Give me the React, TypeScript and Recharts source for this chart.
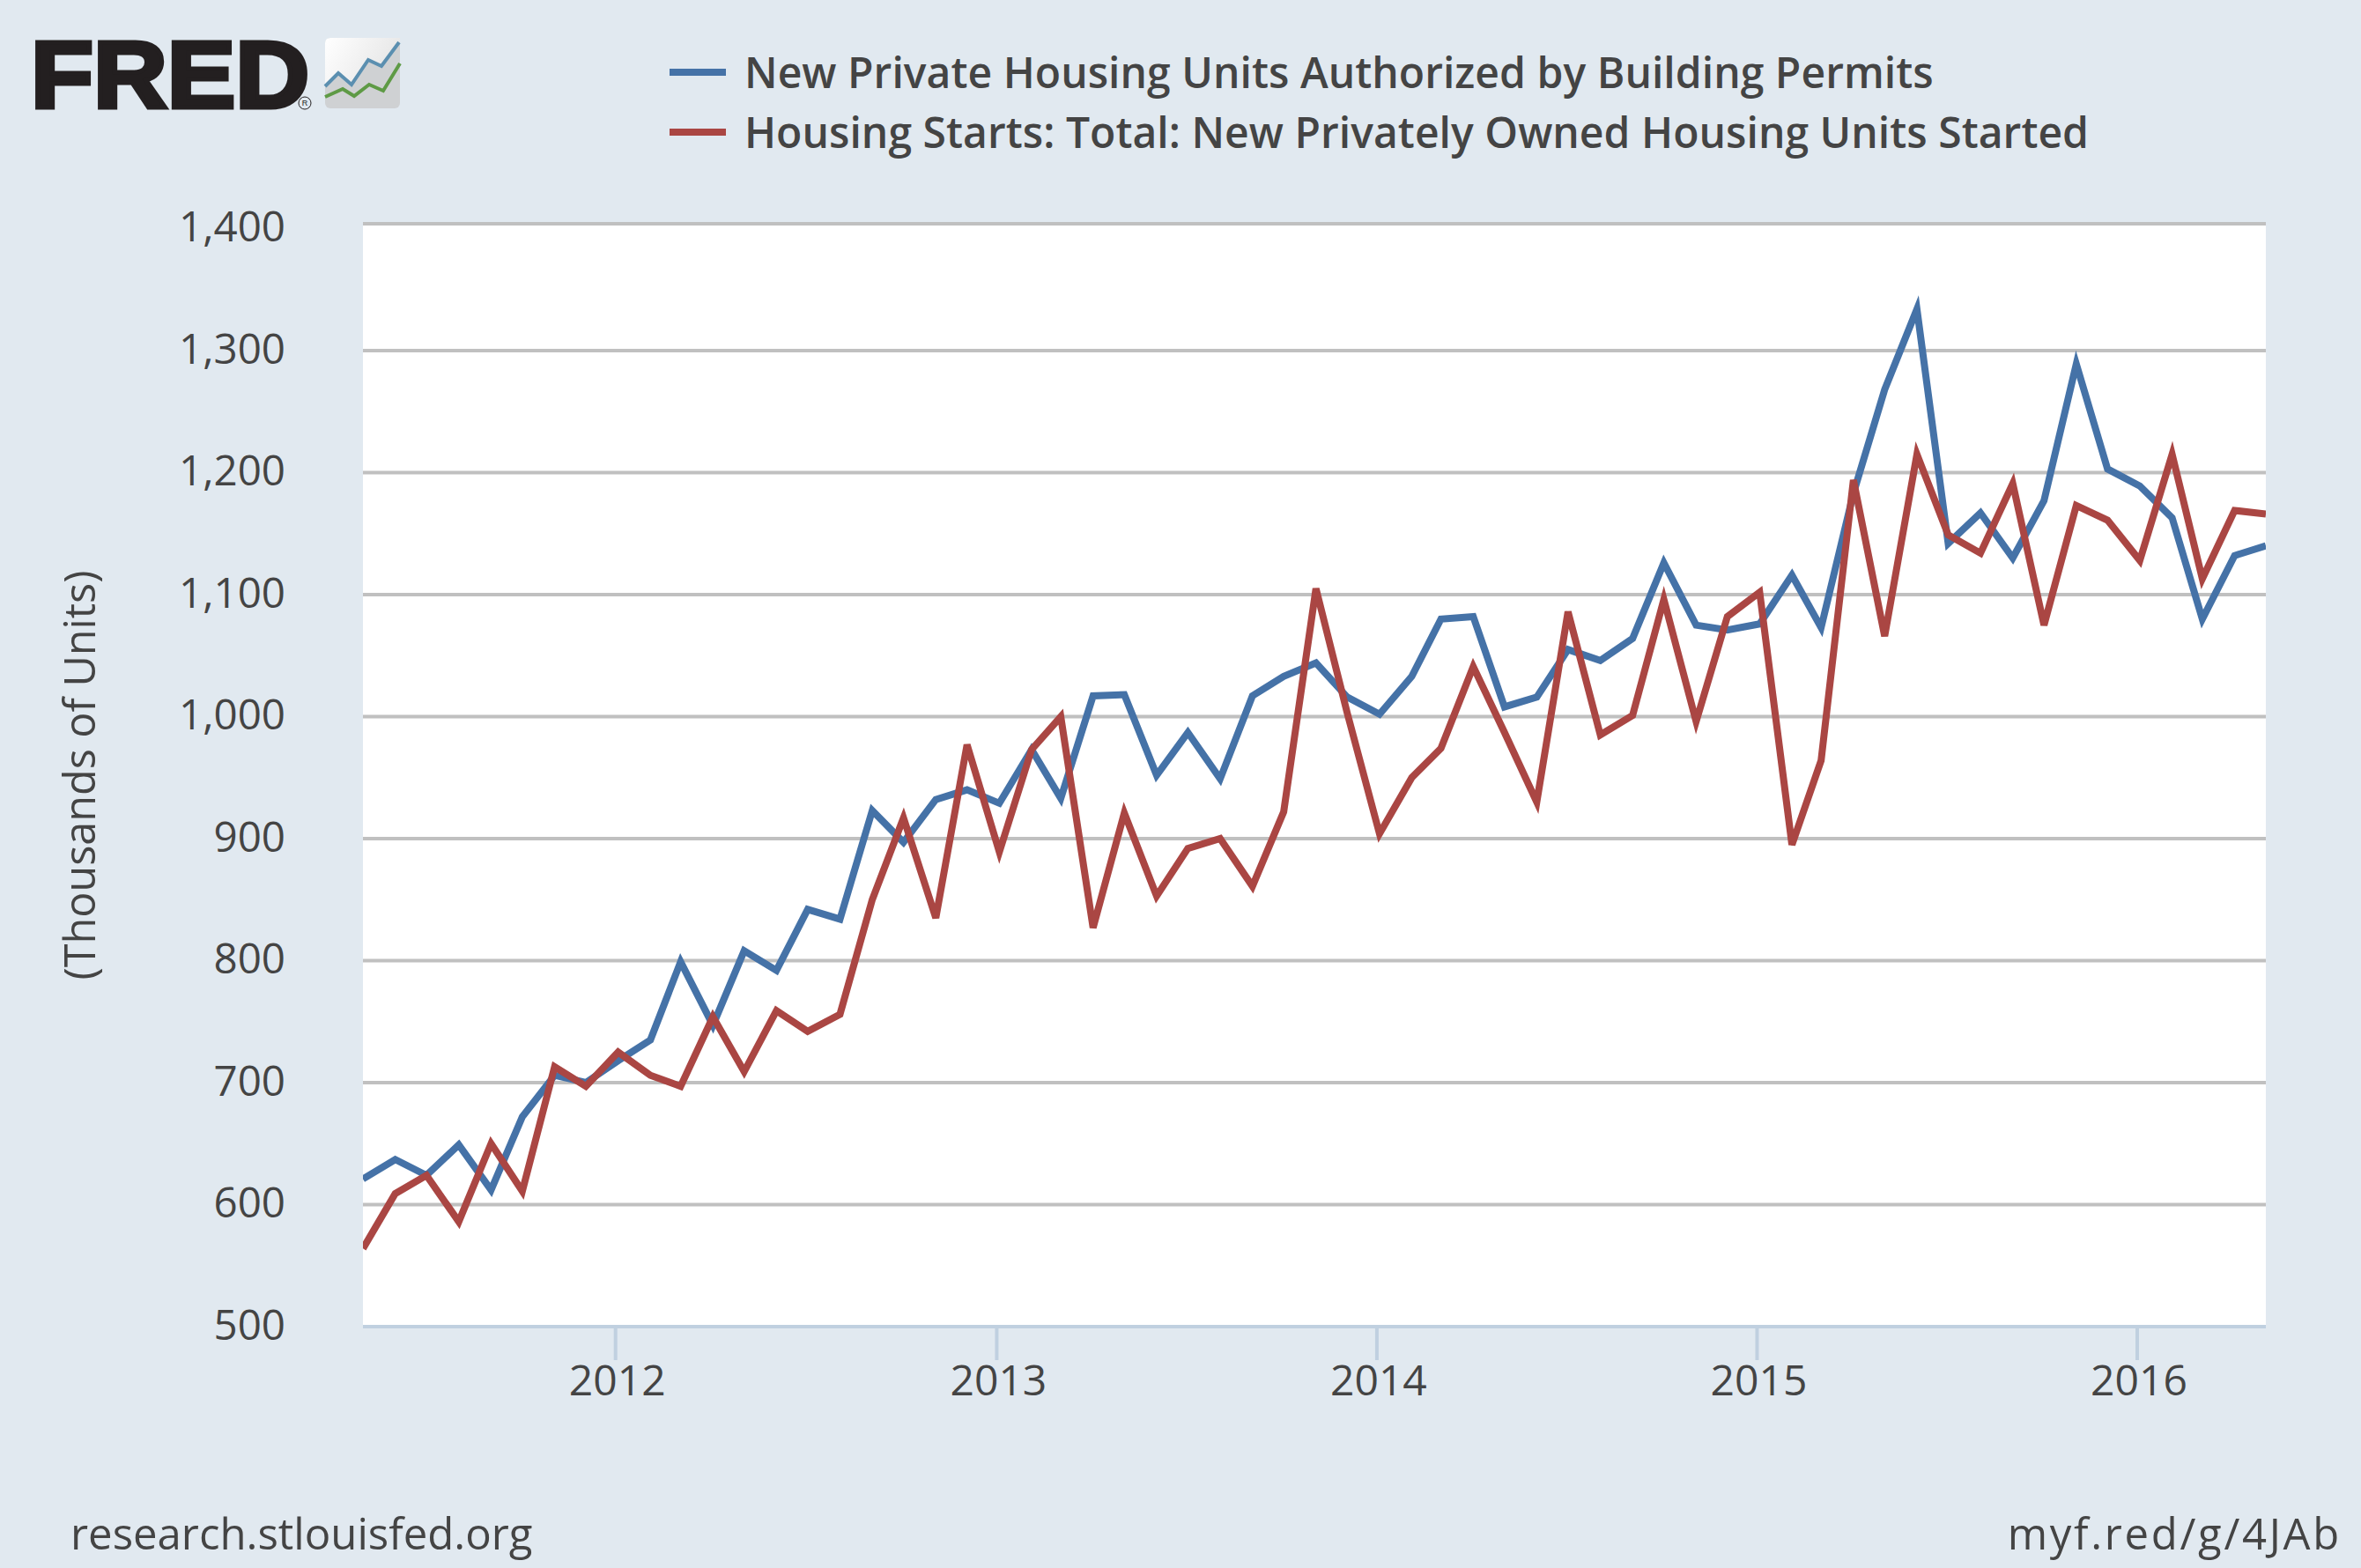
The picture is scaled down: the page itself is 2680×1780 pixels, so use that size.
import { LineChart, Line, XAxis, YAxis, CartesianGrid, Legend, Label } from 'recharts'

const months = [
  '2011-05', '2011-06', '2011-07', '2011-08', '2011-09', '2011-10', '2011-11', '2011-12',
  '2012-01', '2012-02', '2012-03', '2012-04', '2012-05', '2012-06', '2012-07', '2012-08', '2012-09', '2012-10', '2012-11', '2012-12',
  '2013-01', '2013-02', '2013-03', '2013-04', '2013-05', '2013-06', '2013-07', '2013-08', '2013-09', '2013-10', '2013-11', '2013-12',
  '2014-01', '2014-02', '2014-03', '2014-04', '2014-05', '2014-06', '2014-07', '2014-08', '2014-09', '2014-10', '2014-11', '2014-12',
  '2015-01', '2015-02', '2015-03', '2015-04', '2015-05', '2015-06', '2015-07', '2015-08', '2015-09', '2015-10', '2015-11', '2015-12',
  '2016-01', '2016-02', '2016-03', '2016-04', '2016-05',
]

const permits = [
  621, 637, 624, 649, 612, 672, 706, 700,
  718, 735, 799, 747, 808, 792, 842, 834, 923, 897, 932, 940,
  929, 973, 933, 1017, 1018, 952, 987, 949, 1017, 1033, 1044, 1016,
  1002, 1033, 1080, 1082, 1008, 1016, 1055, 1046, 1064, 1126, 1075, 1071,
  1076, 1116, 1073, 1183, 1268, 1334, 1142, 1167, 1130, 1177, 1289, 1203,
  1189, 1163, 1080, 1132, 1140,
]

const starts = [
  564, 609, 624, 586, 650, 611, 713, 697,
  725, 706, 697, 754, 709, 759, 742, 756, 850, 917, 835, 977,
  889, 973, 1000, 827, 921, 853, 892, 900, 861, 922, 1105, 1003,
  904, 950, 974, 1041, 987, 930, 1086, 985, 1001, 1096, 996, 1082,
  1102, 895, 964, 1194, 1066, 1215, 1149, 1134, 1191, 1075, 1173, 1161,
  1128, 1215, 1113, 1169, 1166,
]

const yTicks = [500, 600, 700, 800, 900, 1000, 1100, 1200, 1300, 1400]
const gridValues = [600, 700, 800, 900, 1000, 1100, 1200, 1300, 1404]
const tickYears = [2012, 2013, 2014, 2015, 2016]

const permitsName = 'New Private Housing Units Authorized by Building Permits'
const startsName = 'Housing Starts: Total: New Privately Owned Housing Units Started'

const DAY = 86400000
// FRED draws the year ticks a couple of days left of Jan 1
const TICK_SHIFT = 2.5 * DAY

const toTime = (m: string) => {
  const [y, mo] = m.split('-').map(Number)
  return Date.UTC(y, mo - 1, 1)
}

const data = months.map((m, i) => ({ t: toTime(m), permits: permits[i], starts: starts[i] }))
const xTicks = tickYears.map((y) => Date.UTC(y, 0, 1) - TICK_SHIFT)

const textColor = '#444444'
const fontFamily = '"Open Sans", sans-serif'

function FredLogo() {
  return (
    <svg width={480} height={170} style={{ position: 'absolute', left: 0, top: 0 }}>
      <defs>
        <linearGradient id="logoSky" x1="0" y1="0" x2="1" y2="0.4">
          <stop offset="0" stopColor="#ffffff" />
          <stop offset="1" stopColor="#e6e6e6" />
        </linearGradient>
      </defs>
      <text
        x={35}
        y={122}
        fontFamily="'Liberation Sans', sans-serif"
        fontWeight={700}
        fontSize={108}
        textLength={316}
        lengthAdjust="spacingAndGlyphs"
        fill="#231f20"
        stroke="#231f20"
        strokeWidth={5}
      >
        FRED
      </text>
      <circle cx={346} cy={117} r={7} fill="none" stroke="#231f20" strokeWidth={1} />
      <text x={346} y={120} fontSize={9} textAnchor="middle" fontFamily="'Liberation Sans', sans-serif" fill="#231f20">
        R
      </text>
      <rect x={369} y={43} width={85} height={80} rx={6} fill="#cfd1d3" />
      <path d="M369 98 L384 83 L399 96 L418 68 L433 75 L454 48 L454 49 L454 43 L375 43 Q369 43 369 49 Z" fill="url(#logoSky)" />
      <polyline points="369,98 384,83 399,96 418,68 433,75 453,48" fill="none" stroke="#5b8fb0" strokeWidth={4} />
      <polyline points="369,110 389,101 402,109 419,96 435,103 454,72" fill="none" stroke="#5e9a45" strokeWidth={4} />
    </svg>
  )
}

function LegendBox({ payload }: any) {
  return (
    <div>
      {(payload || []).map((entry: any) => (
        <div key={entry.value} style={{ position: 'relative', height: 68, whiteSpace: 'nowrap' }}>
          <span style={{ position: 'absolute', left: 0, top: 28, width: 64, height: 8, background: entry.color }} />
          <span
            style={{
              position: 'absolute',
              left: 85,
              top: 0,
              fontFamily,
              fontSize: 48,
              lineHeight: '64px',
              fontWeight: 600,
              letterSpacing: 0.05,
              color: textColor,
            }}
          >
            {entry.value}
          </span>
        </div>
      ))}
    </div>
  )
}

export default function App() {
  return (
    <div style={{ position: 'absolute', left: 0, top: 0, width: 2680, height: 1780, background: '#e1e9f0', overflow: 'hidden' }}>
      <FredLogo />
      <LineChart width={2680} height={1780} data={data} margin={{ top: 254, right: 108, bottom: 0, left: 0 }}>
        <CartesianGrid
          vertical={false}
          horizontalValues={gridValues}
          fill="#ffffff"
          stroke="#c0c0c0"
          strokeWidth={4}
          syncWithTicks={false}
        />
        <XAxis
          dataKey="t"
          type="number"
          scale="time"
          domain={[data[0].t, data[data.length - 1].t]}
          ticks={xTicks}
          interval={0}
          allowDataOverflow
          height={274}
          tickSize={38}
          tickMargin={6}
          tickFormatter={(v: number) => String(new Date(v + TICK_SHIFT).getUTCFullYear())}
          tick={{ fontFamily, fontSize: 48, fill: textColor, dx: 2 }}
          axisLine={{ stroke: '#c0d0e0', strokeWidth: 4 }}
          tickLine={{ stroke: '#c0d0e0', strokeWidth: 4 }}
        />
        <YAxis
          type="number"
          width={412}
          domain={[500, 1404]}
          ticks={yTicks}
          interval={0}
          axisLine={false}
          tickLine={false}
          tickSize={0}
          tickMargin={88}
          tickFormatter={(v: number) => v.toLocaleString('en-US')}
          tick={{ fontFamily, fontSize: 47.5, fill: textColor, dy: -2 }}
        >
          <Label
            value="(Thousands of Units)"
            angle={-90}
            position="center"
            dx={-115}
            style={{ fontFamily, fontSize: 48.5, fill: textColor }}
          />
        </YAxis>
        <Legend
          layout="horizontal"
          verticalAlign="middle"
          align="center"
          itemSorter={null}
          content={<LegendBox />}
          wrapperStyle={{ left: 760, top: 50, width: 1700 }}
        />
        <Line
          name={permitsName}
          dataKey="permits"
          stroke="#4572a7"
          strokeWidth={8}
          strokeLinejoin="miter"
          strokeLinecap="butt"
          dot={false}
          activeDot={false}
          isAnimationActive={false}
        />
        <Line
          name={startsName}
          dataKey="starts"
          stroke="#aa4643"
          strokeWidth={8}
          strokeLinejoin="miter"
          strokeLinecap="butt"
          dot={false}
          activeDot={false}
          isAnimationActive={false}
        />
      </LineChart>
      <div style={{ position: 'absolute', left: 80, top: 1708, fontFamily, fontSize: 49.1, lineHeight: '64px', color: textColor }}>
        research.stlouisfed.org
      </div>
      <div style={{ position: 'absolute', right: 22, top: 1708, fontFamily, fontSize: 49, letterSpacing: 2.7, lineHeight: '64px', color: textColor }}>
        myf.red/g/4JAb
      </div>
    </div>
  )
}
